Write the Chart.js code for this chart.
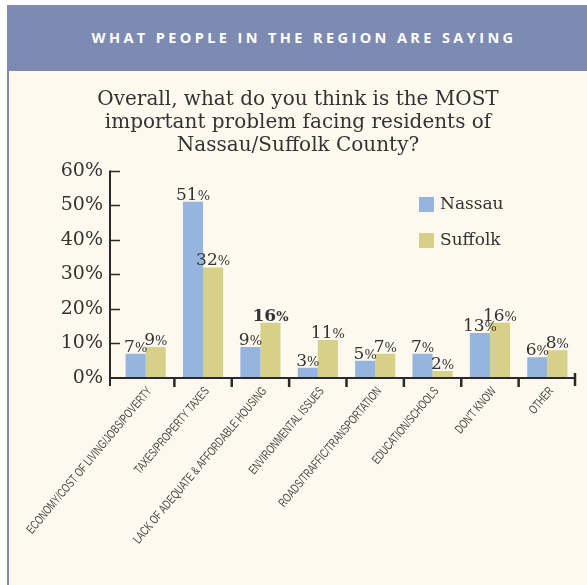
<!DOCTYPE html>
<html>
<head>
<meta charset="utf-8">
<script src="https://cdn.jsdelivr.net/npm/chart.js@4.4.1/dist/chart.umd.min.js"></script>
<style>
  html, body { margin: 0; padding: 0; background: #fff; }
  body { width: 587px; height: 585px; position: relative; overflow: hidden; }
  .panel { position: absolute; left: 7px; top: 5px; right: 0; bottom: 0;
    background: #fdf9ee; border-left: 2px solid #7d8bb3; }
  .header { position: absolute; left: 7px; top: 5px; width: 580px; height: 66px;
    background: #7d8bb3; color: #fff; font-family: "Open Sans", sans-serif; font-weight: 700;
    font-size: 14.5px; letter-spacing: 3.4px; text-align: center; line-height: 66px;
    padding-left: 14px; box-sizing: border-box; }
  #chart { position: absolute; left: 0; top: 0; }
</style>
</head>
<body>
<div class="panel"></div>
<div class="header">WHAT PEOPLE IN THE REGION ARE SAYING</div>
<canvas id="chart" width="587" height="585"></canvas>
<script>
const categories = [
  "ECONOMY/COST OF LIVING/JOBS/POVERTY",
  "TAXES/PROPERTY TAXES",
  "LACK OF ADEQUATE & AFFORDABLE HOUSING",
  "ENVIRONMENTAL ISSUES",
  "ROADS/TRAFFIC/TRANSPORTATION",
  "EDUCATION/SCHOOLS",
  "DON'T KNOW",
  "OTHER",
];
const nassau = [7, 51, 9, 3, 5, 7, 13, 6];
const suffolk = [9, 32, 16, 11, 7, 2, 16, 8];
const yTicks = [0, 10, 20, 30, 40, 50, 60];
const seriesNames = ["Nassau", "Suffolk"];

const blue = "#95b4de";
const khaki = "#d6d088";
const ink = "#333333";
const serif = "'DejaVu Serif', serif";
// the one value label printed in bold in the original
const emphasized = { dataset: 1, index: 2 };

let ctx = document.getElementById("chart").getContext("2d");

// axes drawn by hand: the y line sits a little left of the first bar group
const axesPlugin = {
  id: "axes",
  afterDatasetsDraw: (chart) => {
    const c = chart.ctx;
    const area = chart.chartArea;
    const xs = chart.scales.x;
    const ys = chart.scales.y;
    const x0 = area.left - 7;
    c.save();
    c.strokeStyle = "#2a2a2a";
    c.lineWidth = 2;
    c.beginPath();
    c.moveTo(x0, ys.getPixelForValue(60));
    c.lineTo(x0, area.bottom + 8);
    c.moveTo(x0, area.bottom);
    c.lineTo(area.right, area.bottom);
    c.stroke();
    c.lineWidth = 1.5;
    c.beginPath();
    yTicks.forEach((v) => {
      if (v === 0) return;
      const y = Math.round(ys.getPixelForValue(v)) + 0.5;
      c.moveTo(x0, y);
      c.lineTo(x0 + 10, y);
    });
    c.stroke();
    c.lineWidth = 2.5;
    c.beginPath();
    const half = (xs.getPixelForValue(1) - xs.getPixelForValue(0)) / 2;
    for (let i = 0; i < categories.length - 1; i++) {
      const x = xs.getPixelForValue(i) + half;
      c.moveTo(x, area.bottom - 1);
      c.lineTo(x, area.bottom + 9);
    }
    c.moveTo(area.right - 1, area.bottom - 5);
    c.lineTo(area.right - 1, area.bottom + 8);
    c.stroke();
    c.restore();
  },
};

// slanted, narrow category names under each group
const categoryLabels = {
  id: "categoryLabels",
  afterDraw: (chart) => {
    const c = chart.ctx;
    const xs = chart.scales.x;
    const bottom = chart.chartArea.bottom;
    c.save();
    c.fillStyle = "#484848";
    c.font = "12.5px 'Liberation Sans', sans-serif";
    c.textAlign = "right";
    c.textBaseline = "middle";
    chart.data.labels.forEach((label, i) => {
      const x = xs.getPixelForValue(i);
      c.save();
      c.translate(x + 4, bottom + 11);
      c.rotate(-50 * Math.PI / 180);
      c.scale(0.7, 1);
      c.fillText(label, 0, 0);
      c.restore();
    });
    c.restore();
  },
};

// "51%" style labels: number in larger type, smaller percent sign
const valueLabels = {
  id: "valueLabels",
  afterDatasetsDraw: (chart) => {
    const c = chart.ctx;
    c.save();
    c.fillStyle = ink;
    c.textBaseline = "alphabetic";
    chart.data.datasets.forEach((ds, di) => {
      const meta = chart.getDatasetMeta(di);
      ds.data.forEach((v, i) => {
        const bar = meta.data[i];
        const bold = di === emphasized.dataset && i === emphasized.index;
        const numFont = (bold ? "bold " : "") + "17px " + serif;
        const pctFont = (bold ? "bold " : "") + "13px " + serif;
        c.font = numFont;
        const wn = c.measureText(String(v)).width;
        c.font = pctFont;
        const wp = c.measureText("%").width;
        let x = bar.x - (wn + wp) / 2;
        const y = bar.y - 2;
        c.font = numFont;
        c.fillText(String(v), x, y);
        c.font = pctFont;
        c.fillText("%", x + wn, y);
      });
    });
    c.restore();
  },
};

const legendPlugin = {
  id: "boxLegend",
  afterDraw: (chart) => {
    const c = chart.ctx;
    c.save();
    c.font = "17px " + serif;
    c.textBaseline = "middle";
    chart.data.datasets.forEach((ds, i) => {
      const top = 197 + i * 36;
      c.fillStyle = ds.backgroundColor;
      c.fillRect(419, top, 15, 15);
      c.fillStyle = ink;
      c.fillText(ds.label, 440, top + 8);
    });
    c.restore();
  },
};

let chart = new Chart(ctx, {
  type: "bar",
  data: {
    labels: categories,
    datasets: [
      {
        label: seriesNames[0],
        data: nassau,
        backgroundColor: blue,
        borderWidth: 0,
        categoryPercentage: 0.7,
        barPercentage: 1.0,
      },
      {
        label: seriesNames[1],
        data: suffolk,
        backgroundColor: khaki,
        borderWidth: 0,
        categoryPercentage: 0.7,
        barPercentage: 1.0,
      },
    ],
  },
  options: {
    responsive: false,
    animation: false,
    layout: {
      padding: { top: 71, left: 20, right: 11, bottom: 0 },
    },
    scales: {
      x: {
        grid: { display: false },
        border: { display: false },
        ticks: { display: false },
        afterFit: (scale) => {
          scale.height = 207;
        },
      },
      y: {
        min: 0,
        max: 60,
        grid: { display: false },
        border: { display: false },
        afterBuildTicks: (scale) => {
          scale.ticks = yTicks.map((v) => ({ value: v }));
        },
        ticks: {
          padding: 6,
          color: ink,
          font: { family: "DejaVu Serif", size: 19 },
          callback: (v) => v + "%",
        },
        afterFit: (scale) => {
          scale.width = 97;
        },
      },
    },
    plugins: {
      legend: { display: false },
      tooltip: { enabled: false },
      title: {
        display: true,
        text: [
          "Overall, what do you think is the MOST",
          "important problem facing residents of",
          "Nassau/Suffolk County?",
        ],
        color: ink,
        font: { family: "DejaVu Serif", size: 20, weight: "normal", lineHeight: 1.16 },
        padding: { top: 17, bottom: 13 },
      },
    },
  },
  plugins: [axesPlugin, valueLabels, legendPlugin, categoryLabels],
});
</script>
</body>
</html>
